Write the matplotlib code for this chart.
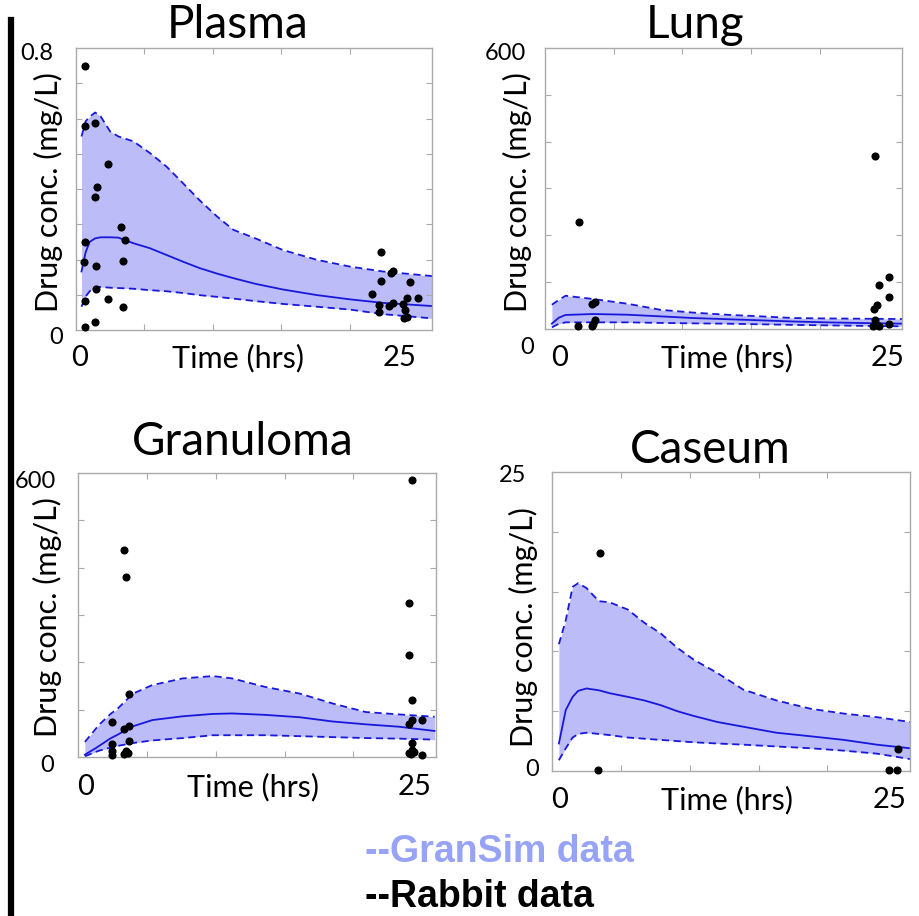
import matplotlib
matplotlib.use("Agg")
import matplotlib.pyplot as plt
import numpy as np

plt.rcParams['font.family'] = ['Lato', 'DejaVu Sans']

W, H = 920, 916

# GranSim curves (upper / median / lower) and rabbit points, per compartment
plasma_t = [0.4, 0.7, 1.0, 1.4, 1.8, 2.5, 3.1, 4.2, 5.4, 6.6, 7.8, 9.0, 10.3, 11.5, 13.1, 15.1, 17.6, 20.0, 22.4, 26.0]
plasma_hi = [0.549, 0.592, 0.605, 0.617, 0.606, 0.563, 0.549, 0.535, 0.502, 0.464, 0.417, 0.369, 0.322, 0.284, 0.260, 0.227, 0.199, 0.180, 0.166, 0.153]
plasma_mid = [0.166, 0.220, 0.250, 0.260, 0.263, 0.263, 0.262, 0.246, 0.232, 0.213, 0.194, 0.176, 0.160, 0.147, 0.131, 0.115, 0.099, 0.087, 0.077, 0.068]
plasma_lo = [0.066, 0.095, 0.110, 0.123, 0.122, 0.120, 0.119, 0.117, 0.113, 0.110, 0.105, 0.099, 0.094, 0.089, 0.082, 0.074, 0.066, 0.058, 0.045, 0.033]
plasma_pt_t = [0.68, 0.66, 1.41, 2.31, 1.51, 1.41, 0.66, 0.61, 1.43, 3.26, 3.55, 3.41, 1.43, 0.66, 2.34, 3.41, 1.36, 0.63,
               22.26, 22.26, 23.04, 23.16, 24.38, 21.65, 22.14, 22.14, 22.87, 23.16, 23.89, 24.18, 24.99, 24.01, 23.94, 24.18]
plasma_pt_c = [0.748, 0.580, 0.586, 0.471, 0.407, 0.377, 0.249, 0.194, 0.182, 0.291, 0.256, 0.197, 0.117, 0.082, 0.087, 0.066, 0.024, 0.008,
               0.221, 0.140, 0.163, 0.166, 0.137, 0.101, 0.071, 0.052, 0.068, 0.076, 0.074, 0.092, 0.092, 0.057, 0.035, 0.038]

lung_t = [0.5, 1.0, 1.5, 3.5, 6.0, 8.4, 10.8, 13.2, 15.7, 18.1, 20.5, 23.0, 26.0]
lung_hi = [51.8, 62, 71, 64, 54, 41, 35, 30.5, 27, 23.4, 22.5, 22, 21.3]
lung_mid = [11.4, 24, 30, 32, 30.5, 27, 23.4, 21, 18.5, 16, 14.2, 12.8, 11.4]
lung_lo = [3.6, 11, 14.2, 14.2, 14.2, 13, 12, 11.4, 10, 8.8, 7.8, 6.8, 5.7]
lung_pt_t = [2.5, 2.43, 3.4, 3.64, 3.4, 3.52, 3.64, 24.03, 24.32, 25.05, 25.05, 24.2, 23.98, 24.03, 24.15, 23.9, 24.35, 25.05]
lung_pt_c = [229, 5.7, 54, 57, 7.1, 11.4, 18.5, 370, 93, 111, 69, 52, 42.6, 18.5, 9.2, 5.7, 7.1, 10.7]

gran_t = [0.5, 1.3, 1.6, 2.4, 2.8, 4.0, 5.4, 7.6, 9.8, 11.2, 13.6, 16.1, 18.5, 20.9, 23.3, 25.9]
gran_hi = [31.8, 60, 70, 92, 100, 134, 152, 166, 171, 166, 148, 134, 113, 95, 90, 85]
gran_mid = [4.9, 19, 24.7, 40, 46, 65, 78, 86, 91, 92, 89, 84, 75, 69, 64, 55]
gran_lo = [1.4, 11, 14, 20, 23, 29.6, 35, 40, 46, 46, 46, 44, 42, 40, 38.8, 36.7]
gran_pt_t = [3.33, 3.5, 2.44, 3.33, 3.67, 3.67, 3.67, 2.49, 2.44, 2.49, 3.33, 3.5, 3.62,
             24.28, 24.03, 24.03, 24.28, 24.28, 25.0, 24.03, 24.28, 24.28, 24.03, 24.15, 24.4, 25.0]
gran_pt_c = [438, 381, 73, 59, 66, 134, 34, 28, 12, 3.5, 7, 12, 9,
             586, 325, 215, 120, 79, 79, 69, 30, 14, 9, 7, 11, 5]

cas_t = [0.5, 1.0, 1.5, 1.9, 2.5, 3.4, 4.2, 5.5, 6.7, 7.9, 9.1, 10.3, 12.0, 13.9, 16.3, 18.8, 21.2, 23.6, 26.0]
cas_hi = [10.6, 12.6, 15.4, 15.7, 15.3, 14.2, 14.1, 13.5, 12.4, 11.5, 10.3, 9.3, 8.2, 6.8, 5.9, 5.2, 4.8, 4.5, 4.1]
cas_mid = [2.3, 5.1, 6.2, 6.7, 6.9, 6.75, 6.5, 6.2, 5.9, 5.5, 5.0, 4.6, 4.1, 3.7, 3.2, 2.9, 2.6, 2.2, 1.9]
cas_lo = [0.9, 1.9, 2.8, 3.1, 3.2, 3.1, 3.0, 2.8, 2.7, 2.6, 2.5, 2.4, 2.3, 2.2, 2.05, 1.9, 1.7, 1.45, 1.0]
cas_pt_t = [3.5, 3.34, 25.1, 24.5, 25.06]
cas_pt_c = [18.2, 0.1, 1.84, 0.1, 0.1]


def fx(x):
    return x / W


def fy(y):
    return 1 - y / H


fill_col = '#bbbcf8'
line_col = '#1818dc'
spine_col = '#aaaaaa'

fig = plt.figure(figsize=(W / 100, H / 100), dpi=100)

# name, box (left, top, right, bottom px), data, y max, y ticks, title pos, ylabel pos, xlabel pos,
# x tick texts, y tick texts
panels = [
    ('Plasma', (76, 48, 432, 330), (plasma_t, plasma_hi, plasma_mid, plasma_lo, plasma_pt_t, plasma_pt_c),
     0.8, np.arange(0.1, 0.8, 0.1), (238, 25), (48, 192), (238, 358),
     [('0', 80, 358), ('25', 400, 358)], [('0.8', 37, 53), ('0', 56, 338)]),
    ('Lung', (545, 48, 902, 329), (lung_t, lung_hi, lung_mid, lung_lo, lung_pt_t, lung_pt_c),
     600, np.arange(100, 600, 100), (695, 25), (517, 192), (727, 358),
     [('0', 560, 358), ('25', 888, 358)], [('600', 505, 53), ('0', 527, 347)]),
    ('Granuloma', (78, 473, 436, 757), (gran_t, gran_hi, gran_mid, gran_lo, gran_pt_t, gran_pt_c),
     600, np.arange(100, 600, 100), (243, 442), (47, 617), (253, 787),
     [('0', 86, 787), ('25', 415, 787)], [('600', 35, 482), ('0', 47, 765)]),
    ('Caseum', (552, 472, 910, 771), (cas_t, cas_hi, cas_mid, cas_lo, cas_pt_t, cas_pt_c),
     25, np.arange(5, 25, 5), (710, 450), (523, 627), (727, 800),
     [('0', 560, 800), ('25', 890, 800)], [('25', 513, 475), ('0', 532, 770)]),
]

for name, box, data, ymax, yt, tpos, ylpos, xlpos, xtexts, ytexts in panels:
    l, t, r, b = box
    ax = fig.add_axes([fx(l), fy(b), fx(r - l), (b - t) / H])
    tt, hi, mid, lo, pt_t, pt_c = data
    ax.fill_between(tt, lo, hi, color=fill_col, lw=0)
    ax.plot(tt, hi, color=line_col, lw=1.3, ls=(0, (4, 2.5)))
    ax.plot(tt, lo, color=line_col, lw=1.3, ls=(0, (4, 2.5)))
    ax.plot(tt, mid, color=line_col, lw=1.3)
    ax.scatter(pt_t, pt_c, s=34, color='black', zorder=5, clip_on=False, lw=0)
    ax.set_xlim(0, 26)
    ax.set_ylim(0, ymax)
    ax.set_xticks([5, 10, 15, 20])
    ax.set_yticks(yt)
    ax.tick_params(direction='in', length=4, width=0.8, color=spine_col,
                   top=True, right=True, labelbottom=False, labelleft=False)
    for s in ax.spines.values():
        s.set_color(spine_col)
        s.set_linewidth(1.0)

    fig.text(fx(tpos[0]), fy(tpos[1]), name, fontsize=33, ha='center', va='center')
    fig.text(fx(ylpos[0]), fy(ylpos[1]), 'Drug conc. (mg/L)', fontsize=22,
             rotation=90, ha='center', va='center')
    fig.text(fx(xlpos[0]), fy(xlpos[1]), 'Time (hrs)', fontsize=22, ha='center', va='center')
    for s, x, y in xtexts:
        fig.text(fx(x), fy(y), s, fontsize=21, ha='center', va='center')
    for s, x, y in ytexts:
        fig.text(fx(x), fy(y), s, fontsize=17, ha='center', va='center')

# left black bar
fig.add_artist(plt.Line2D([fx(11), fx(11)], [fy(20), 0], color='black', lw=4.5))

fig.text(fx(365), fy(852), '--GranSim data', fontsize=27, fontweight='bold',
         color='#97a3f7', family=['Liberation Sans', 'DejaVu Sans'], ha='left', va='center')
fig.text(fx(365), fy(897), '--Rabbit data', fontsize=27, fontweight='bold',
         color='black', family=['Liberation Sans', 'DejaVu Sans'], ha='left', va='center')

fig.savefig('out.png', dpi=100)
